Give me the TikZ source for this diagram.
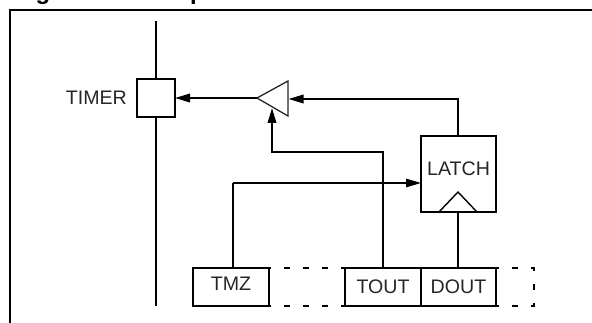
\documentclass[tikz,border=0pt]{standalone}
\usepackage{fontspec}
\setmainfont{Liberation Sans}
\usetikzlibrary{arrows.meta}
\tikzset{x=1pt,y=-1pt,
 ln/.style={line width=2pt,black},
 arr/.style={ln,-{Triangle[length=15pt,width=8.5pt]}},
 lab/.style={font=\fontsize{19.6}{22}\selectfont,text=black!85,inner sep=0pt},
 box/.style={draw,ln,inner sep=0pt,lab,outer sep=0pt},
 dsh/.style={ln,dash pattern=on 6pt off 13pt}}
\begin{document}
\begin{tikzpicture}
\useasboundingbox (0,0) rectangle (592,323);
\draw[ln] (10,323) -- (10,10) -- (592,10);
\node[font=\fontsize{24}{26}\selectfont\bfseries,anchor=base west,inner sep=0pt] (title) at (14,0) {Figure 5-1.\ \ Output Mode Control};
% timer
\node[box,minimum size=38pt] (timer) at (156,98) {};
\node[lab,anchor=east] (timerl) at (127,98) {TIMER};
\coordinate (bt) at (156,21);
\coordinate (bb) at (156,306);
\draw[ln] (bt) -- (timer.north);
\draw[ln] (timer.south) -- (bb);
% buffer
\coordinate (bufl) at (257,98);
\coordinate (buft) at (288,81);
\coordinate (bufb) at (288,116);
\draw[line width=1.3pt,black!85] (bufl) -- (buft) -- (bufb) -- cycle;
\draw[arr] (bufl) -- (timer.east);
% latch
\node[box,minimum width=75pt,minimum height=76pt] (latch) at (458.5,174) {};
\node[lab] (latchl) at (458.5,169) {LATCH};
\coordinate (cl) at (439,212);
\coordinate (ct) at (458,192);
\coordinate (cr) at (477,212);
\draw[line width=1.4pt] (cl) -- (ct) -- (cr);
% registers
\node[box,minimum width=76pt,minimum height=38pt] (tout) at (383,287) {TOUT};
\node[box,minimum width=75pt,minimum height=38pt] (dout) at (458.5,287) {DOUT};
\node[box,minimum width=76pt,minimum height=38pt] (tmz) at (231,287) {};
\node[lab] (tmzl) at (231,283.5) {TMZ};
\draw[line width=2.4pt,dash pattern=on 6pt off 13pt,dash phase=2pt] (tmz.north west) rectangle (tmz.south east);
\draw[dsh,dash phase=4pt] (tmz.north east) -- (tout.north west);
\draw[dsh,dash phase=4pt] (tmz.south east) -- (tout.south west);
\coordinate (dr1) at (534,268);
\coordinate (dr2) at (534,306);
\draw[dsh,dash phase=3pt] (dout.north east) -- (dr1) -- (dr2) -- (dout.south east);
% connectors
\coordinate (c1) at (458,99);
\coordinate (bufin) at (288.5,99);
\draw[arr] (latch.north -| c1) -- (c1) -- (bufin);
\coordinate (c2) at (383,152);
\coordinate (c3) at (272,152);
\coordinate (bufen) at (272,108);
\draw[arr] (tout.north) -- (c2) -- (c3) -- (bufen);
\coordinate (c4) at (233,183);
\draw[ln] (c4 |- tmz.north) -- (c4);
\draw[arr,line width=1.2pt] (c4) -- (latch.west |- c4);
\draw[ln] (dout.north -| c1) -- (latch.south -| c1);
\end{tikzpicture}
\end{document}
